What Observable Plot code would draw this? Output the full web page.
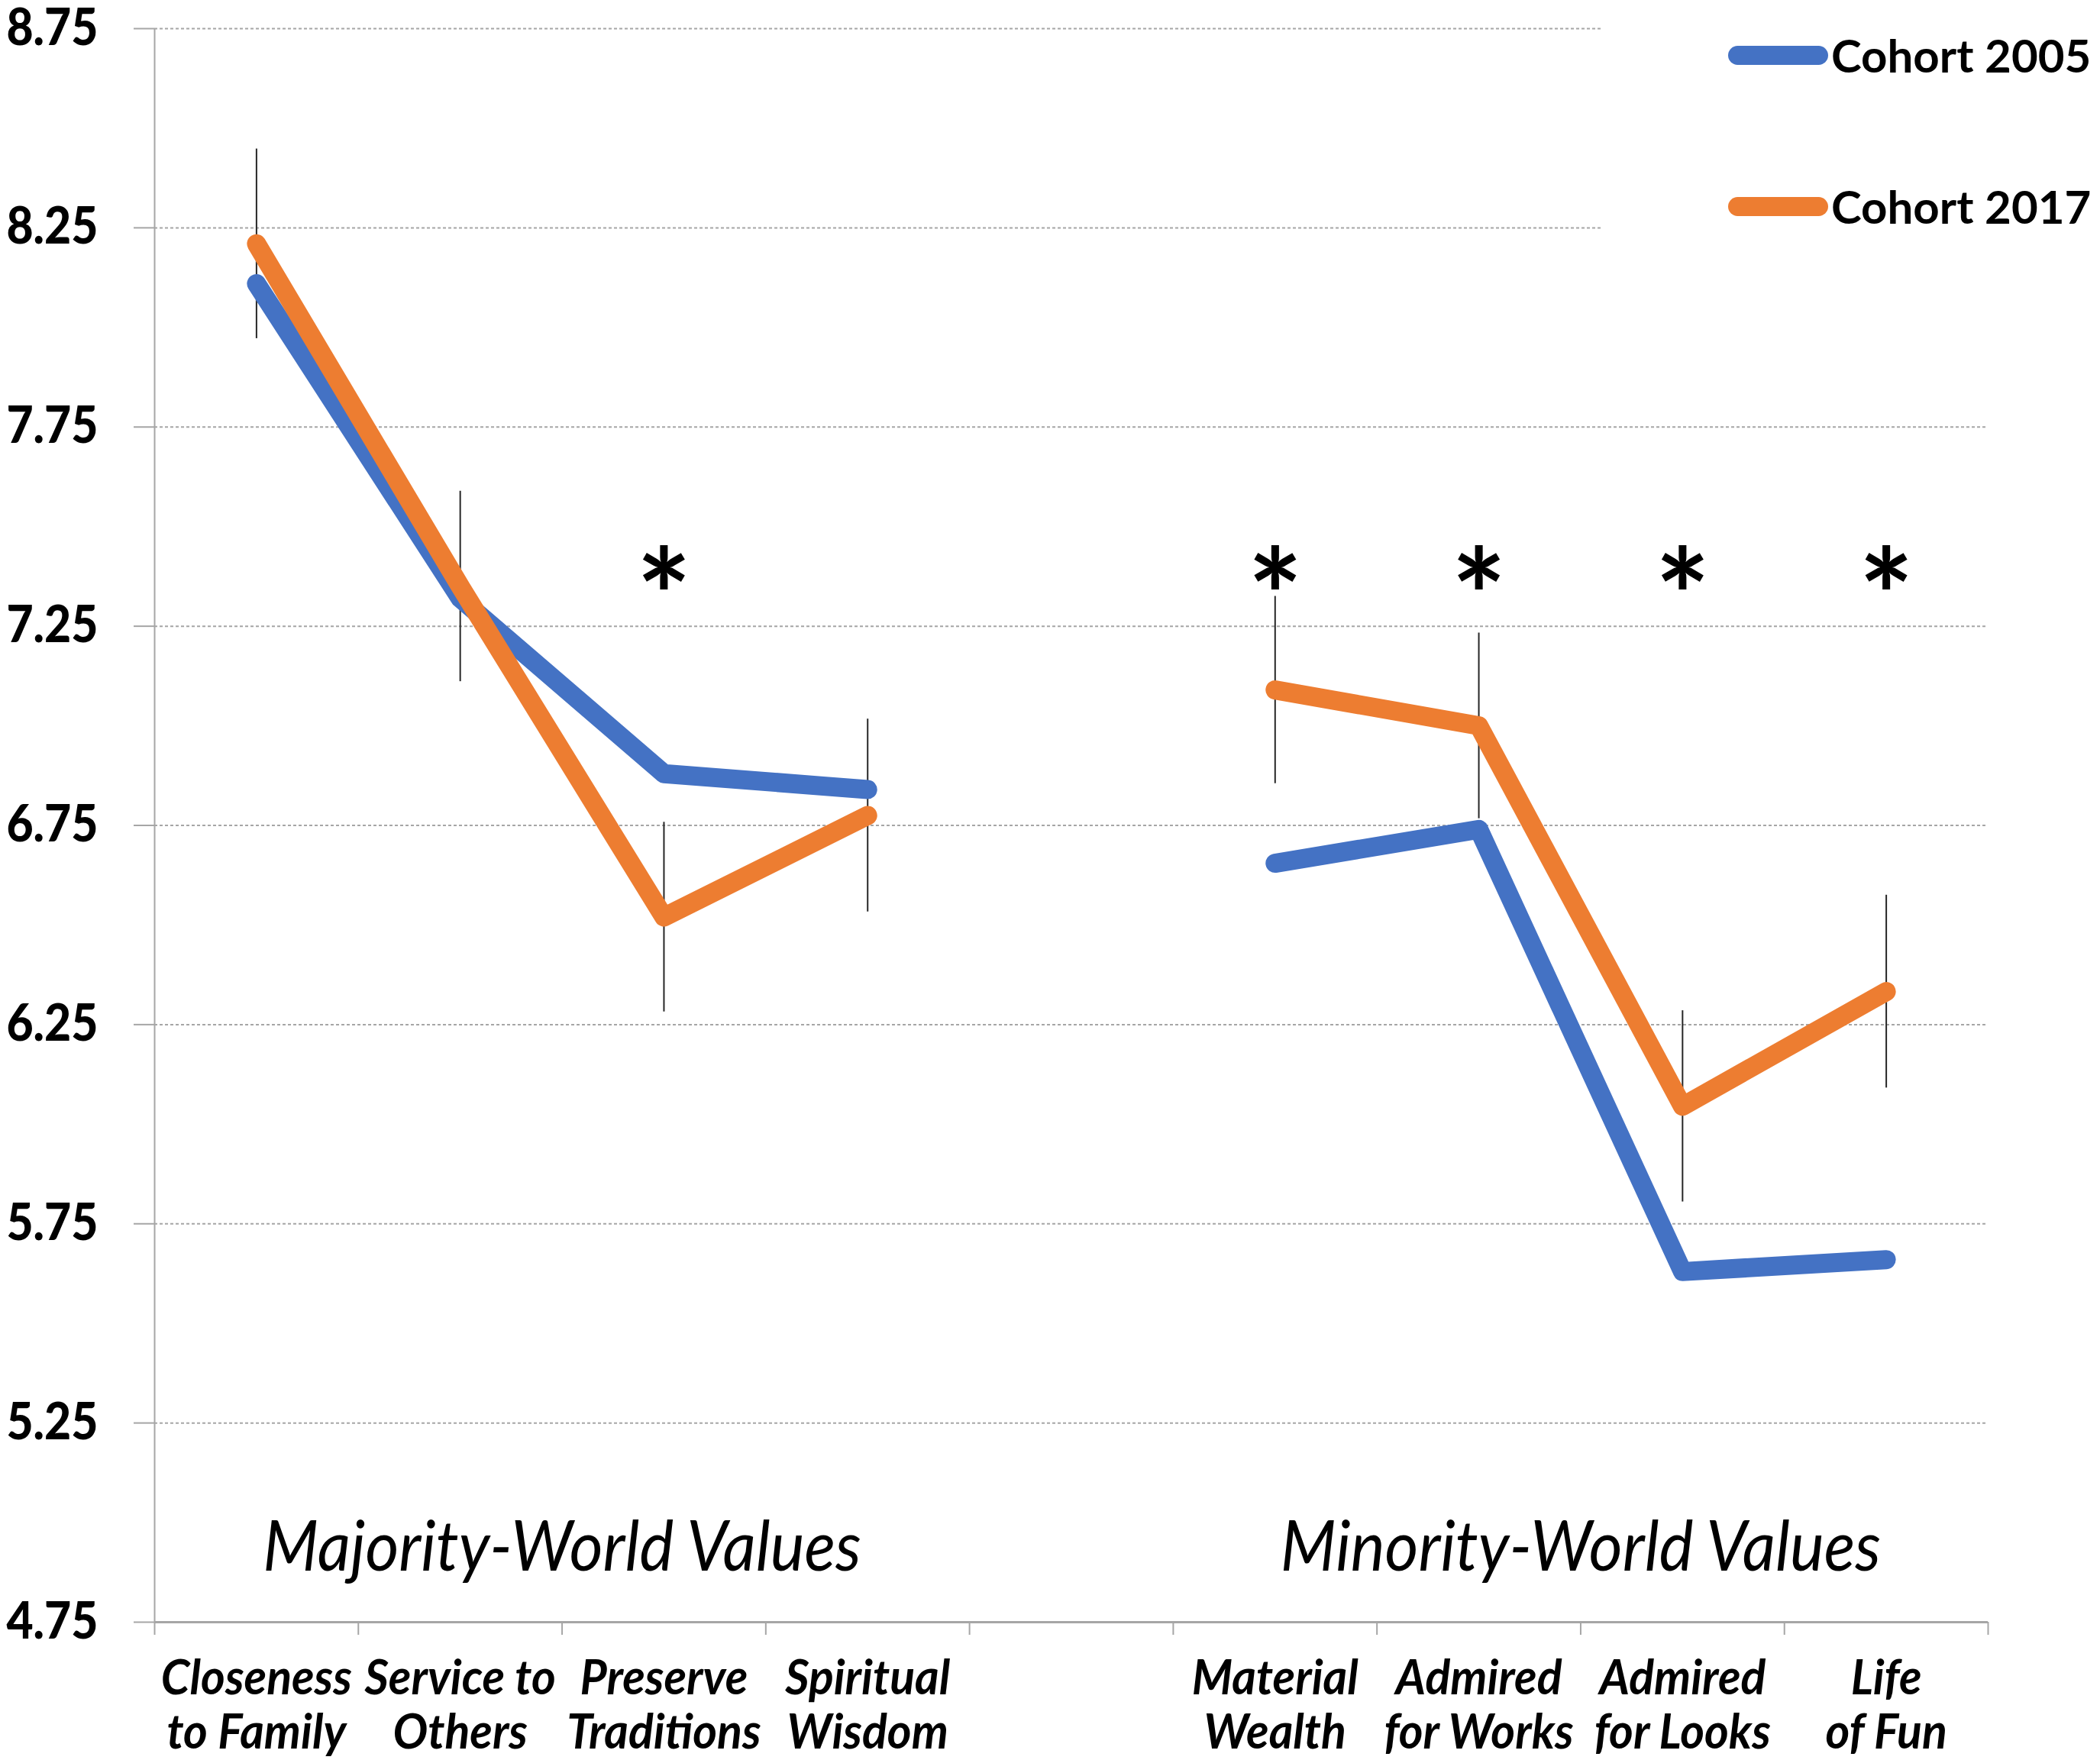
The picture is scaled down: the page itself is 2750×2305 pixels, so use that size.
<!DOCTYPE html>
<html>
<head>
<meta charset="utf-8">
<script src="https://cdn.jsdelivr.net/npm/d3@7"></script>
<script src="https://cdn.jsdelivr.net/npm/@observablehq/plot@0.6"></script>
<style>
  html, body { margin: 0; padding: 0; background: #fff; }
  #chart { position: relative; width: 2750px; height: 2305px; font-family: Lato, "Open Sans", sans-serif; }
  #chart svg { display: block; }
  #legend { position: absolute; left: 2096px; top: 0; width: 654px; height: 330px; background: #fff; }
  #legend .item { position: absolute; left: 167px; height: 0; display: flex; align-items: center; white-space: nowrap; }
  #legend .swatch { width: 131px; height: 25px; border-radius: 13px; }
  #legend .name { font-weight: 700; font-size: 60px; color: #000; margin-left: 4px; }
</style>
</head>
<body>
<div id="chart"></div>
<script>
// Value categories along the x axis ("" leaves a gap between the two groups)
const categories = ["Closeness\nto Family", "Service to\nOthers", "Preserve\nTraditions", "Spiritual\nWisdom", "",
                    "Material\nWealth", "Admired\nfor Works", "Admired\nfor Looks", "Life\nof Fun"];
const groupNames = ["Majority-World Values", "Minority-World Values"];
const groupOf = [0, 0, 0, 0, null, 1, 1, 1, 1];

// Mean ratings per cohort
const seriesNames = ["Cohort 2005", "Cohort 2017"];
const seriesColors = ["#4472C4", "#ED7D31"];
const cohort2005 = [8.11, 7.32, 6.88, 6.84, null, 6.655, 6.74, 5.63, 5.66];
const cohort2017 = [8.21, 7.35, 6.52, 6.775, null, 7.09, 7.00, 6.045, 6.333];
// Error bar half-widths on the 2017 cohort
const error2017 = [0.238, 0.239, 0.238, 0.242, null, 0.235, 0.233, 0.24, 0.242];
// Significant cohort differences
const significant = [false, false, true, false, false, true, true, true, true];

const yTicks = [4.75, 5.25, 5.75, 6.25, 6.75, 7.25, 7.75, 8.25, 8.75];
const starLevel = 7.40;

const rows = categories.map((label, i) => ({
  pos: i + 1,
  label,
  group: groupOf[i],
  v2005: cohort2005[i],
  v2017: cohort2017[i],
  err: error2017[i],
  sig: significant[i]
}));
const boundaries = d3.range(categories.length + 1).map(i => i + 0.5);
const groups = groupNames.map((name, g) => ({
  name,
  pos: d3.mean(rows.filter(r => r.group === g), r => r.pos)
}));

const axisGray = "#a6a6a6";
const lineStyle = {x: "pos", strokeWidth: 25, strokeLinecap: "round", strokeLinejoin: "round"};

const plot = Plot.plot({
  width: 2750,
  height: 2305,
  marginLeft: 202,
  marginRight: 147,
  marginTop: 37,
  marginBottom: 181,
  x: {type: "linear", domain: [0.5, categories.length + 0.5], axis: null},
  y: {domain: [yTicks[0], yTicks[yTicks.length - 1]], axis: null},
  style: {fontFamily: "Lato, 'Open Sans', sans-serif", background: "white", overflow: "visible"},
  marks: [
    Plot.gridY(yTicks.slice(1), {stroke: axisGray, strokeOpacity: 1, strokeWidth: 2, strokeDasharray: "4,3"}),
    Plot.ruleY([yTicks[0]], {stroke: axisGray, strokeWidth: 3}),
    Plot.ruleX([boundaries[0]], {stroke: axisGray, strokeWidth: 2}),
    Plot.axisY(yTicks, {
      tickSize: 27, tickPadding: 47, stroke: axisGray, strokeWidth: 2,
      fill: "black", fontSize: 66, fontWeight: "bold", tickFormat: d => d.toFixed(2),
      ariaDescription: "value ticks"
    }),
    Plot.axisX(boundaries, {tickSize: 17, tickFormat: () => "", stroke: axisGray, strokeWidth: 2, label: null}),
    // error bars (behind the lines)
    Plot.ruleX(rows.filter(d => d.err != null), {
      x: "pos", y1: d => d.v2017 - d.err, y2: d => d.v2017 + d.err, stroke: "#262626", strokeWidth: 2
    }),
    Plot.line(rows, {...lineStyle, y: "v2005", stroke: seriesColors[0]}),
    Plot.line(rows, {...lineStyle, y: "v2017", stroke: seriesColors[1]}),
    // significance markers
    Plot.text(rows.filter(d => d.sig), {
      x: "pos", y: () => starLevel, text: () => "*", fontSize: 170, fontWeight: "bold",
      lineAnchor: "middle", dy: 48, fill: "black"
    }),
    // group labels inside the frame
    Plot.text(groups, {
      x: "pos", text: "name", frameAnchor: "bottom", lineAnchor: "bottom", dy: -68,
      fontSize: 92, fontStyle: "italic", fill: "black", ariaDescription: "group labels"
    }),
    // category labels under the axis
    Plot.text(rows, {
      x: "pos", text: "label", frameAnchor: "bottom", lineAnchor: "top", dy: 44,
      fontSize: 64, fontWeight: "bold", fontStyle: "italic", lineHeight: 1.11, fill: "black",
      ariaDescription: "category labels"
    })
  ]
});

// horizontally condense the label text
function condense(selector, k) {
  d3.select(plot).selectAll(`g[aria-description="${selector}"] text`).each(function () {
    const t = this.getAttribute("transform") || "";
    this.setAttribute("transform", `${t} scale(${k},1)`);
  });
}
condense("category labels", 0.95);
condense("group labels", 0.92);
condense("value ticks", 0.92);

// heavy weight for the value tick labels
d3.select(plot).selectAll(`g[aria-description="value ticks"] text`)
  .attr("font-weight", 900).style("font-weight", 900);

const chart = document.getElementById("chart");
chart.appendChild(plot);

// legend overlaid at the top right
const legend = d3.select(chart).append("div").attr("id", "legend");
const legendTops = [72, 270];
seriesNames.forEach((name, i) => {
  const item = legend.append("div").attr("class", "item").style("top", legendTops[i] + "px");
  item.append("div").attr("class", "swatch").style("background", seriesColors[i]);
  item.append("div").attr("class", "name").text(name);
});
</script>
</body>
</html>
